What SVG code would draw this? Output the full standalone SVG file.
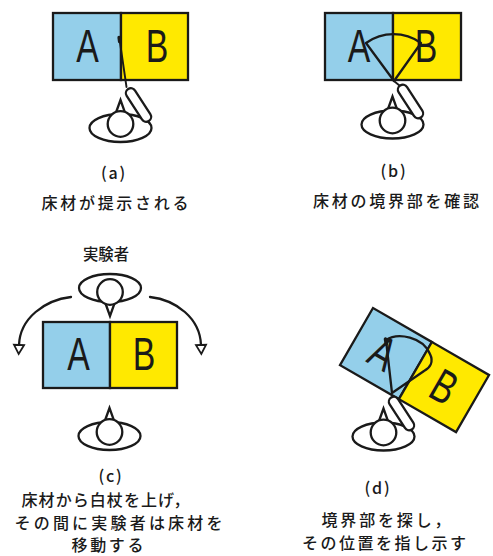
<svg xmlns="http://www.w3.org/2000/svg" xmlns:xlink="http://www.w3.org/1999/xlink" width="493" height="556" viewBox="0 0 493 556">
  <style>
    .ln { fill: none; stroke: #1a1a1a; stroke-width: 2.3; stroke-linejoin: round; stroke-linecap: round; }
    .wf { fill: #ffffff; stroke: #1a1a1a; stroke-width: 2.3; stroke-linejoin: miter; }
    .tile { stroke: #1a1a1a; stroke-width: 2.3; }
    .a { fill: #94cfea; }
    .b { fill: #ffe900; }
    .cane { fill: none; stroke: #1a1a1a; stroke-width: 1.9; stroke-linecap: round; }
    .tip { fill: none; stroke: #1a1a1a; stroke-width: 3.6; stroke-linecap: round; }
    .letter { font-family: "Liberation Sans", Arial, sans-serif; font-size: 47px; fill: #1a1a1a; text-anchor: middle; }
    .lbl { font-family: "Noto Sans CJK JP", "Noto Sans CJK SC", sans-serif; font-size: 16px; font-weight: 500; fill: #1a1a1a; }
    .mid { text-anchor: middle; }
  </style>
  <defs>
    <!-- seated person seen from above: shoulders, nose, head (origin = head centre) -->
    <g id="body">
      <ellipse class="wf" cx="0" cy="4" rx="31" ry="14"/>
    </g>
    <g id="head">
      <path class="wf" d="M-4.5,-11.5 L0,-24 L4.5,-11.5 Z"/>
      <circle class="wf" cx="0" cy="0" r="12.8"/>
    </g>
    <!-- arm holding the white cane -->
    <rect id="arm" class="wf" x="-5" y="-19" width="10" height="38" rx="5" ry="5" transform="translate(18,-19) rotate(-33)"/>
    <marker id="open-head" markerUnits="userSpaceOnUse" markerWidth="14" markerHeight="14" viewBox="-1 -7 12 14" refX="0" refY="0" orient="auto">
      <path d="M0,-5 L9,0 L0,5 Z" fill="#ffffff" stroke="#1a1a1a" stroke-width="1.8" stroke-linejoin="miter"/>
    </marker>
  </defs>

  <!-- (a) floor tiles presented -->
  <g id="tiles-a">
    <rect class="tile a" x="53" y="13" width="68" height="67"/>
    <rect class="tile b" x="121" y="13" width="67" height="67"/>
    <text class="letter" transform="translate(87.5,62) scale(0.72,1)">A</text>
    <text class="letter" transform="translate(157,62) scale(0.72,1)">B</text>
  </g>
  <g id="person-a">
    <line class="cane" x1="126.5" y1="87" x2="119.5" y2="39"/>
    <line class="tip" x1="119.2" y1="37.5" x2="119.7" y2="41.5"/>
    <g transform="translate(120.5,124)">
      <use xlink:href="#body"/>
      <use xlink:href="#arm"/>
      <use xlink:href="#head"/>
    </g>
  </g>
  <g id="caption-a">
    <text class="lbl mid" x="114" y="179" letter-spacing="1.8">(a)</text>
    <text class="lbl" x="41.5" y="208.5" textLength="147" lengthAdjust="spacing">床材が提示される</text>
  </g>

  <!-- (b) probing the boundary -->
  <g id="tiles-b">
    <rect class="tile a" x="325" y="13" width="68" height="67"/>
    <rect class="tile b" x="393" y="13" width="68" height="67"/>
    <text class="letter" transform="translate(359,62) scale(0.72,1)">A</text>
    <text class="letter" transform="translate(426,62) scale(0.72,1)">B</text>
  </g>
  <g id="person-b">
    <path class="ln" d="M394,81 L366,43 A47,47 0 0 1 421,43 Z"/>
    <line class="cane" x1="400" y1="86" x2="394" y2="81"/>
    <g transform="translate(392.5,120.5)">
      <use xlink:href="#body"/>
      <use xlink:href="#arm"/>
      <use xlink:href="#head"/>
    </g>
  </g>
  <g id="caption-b">
    <text class="lbl mid" x="394" y="177" letter-spacing="1.8">(b)</text>
    <text class="lbl" x="313" y="206.5" textLength="166" lengthAdjust="spacing">床材の境界部を確認</text>
  </g>

  <!-- (c) experimenter moves the tiles -->
  <g id="experimenter">
    <text class="lbl" x="83" y="260" textLength="46" lengthAdjust="spacingAndGlyphs">実験者</text>
    <g transform="translate(110,292) scale(1,-1)">
      <use xlink:href="#body"/>
      <use xlink:href="#head"/>
    </g>
  </g>
  <g id="tiles-c">
    <rect class="tile a" x="43" y="322" width="67" height="66"/>
    <rect class="tile b" x="110" y="322" width="67" height="66"/>
    <text class="letter" transform="translate(78.5,370) scale(0.72,1)">A</text>
    <text class="letter" transform="translate(144,370) scale(0.72,1)">B</text>
  </g>
  <g id="person-c">
    <g transform="translate(109.5,432)">
      <use xlink:href="#body"/>
      <use xlink:href="#head"/>
    </g>
  </g>
  <g id="connectors">
    <path class="ln" d="M71,297 C45,300 20,318 19,345" marker-end="url(#open-head)"/>
    <path class="ln" d="M150,297 C176,300 200,318 201,345" marker-end="url(#open-head)"/>
  </g>
  <g id="caption-c">
    <text class="lbl mid" x="111" y="482" letter-spacing="1.8">(c)</text>
    <text class="lbl" x="21.5" y="505.5" textLength="168" lengthAdjust="spacing">床材から白杖を上げ，</text>
    <text class="lbl" x="14.5" y="528.7" textLength="208" lengthAdjust="spacing">その間に実験者は床材を</text>
    <text class="lbl" x="71.5" y="551.4" textLength="72" lengthAdjust="spacing">移動する</text>
  </g>

  <!-- (d) locating the boundary on the turned tiles -->
  <g id="tiles-d" transform="translate(373,308) rotate(30)">
    <rect class="tile a" x="0" y="0" width="68" height="66"/>
    <rect class="tile b" x="68" y="0" width="66" height="66"/>
    <text class="letter" transform="translate(31,50) scale(0.72,1)">A</text>
    <text class="letter" transform="translate(101,49) scale(0.72,1)">B</text>
  </g>
  <g id="person-d">
    <path class="ln" d="M392,393 L386,340 C398,332 423,337 430,354 C434,362 430,368 424,371 L392,393"/>
    <line class="tip" x1="385.5" y1="339" x2="386.3" y2="344"/>
    <g transform="translate(383.5,432.5)">
      <use xlink:href="#body"/>
      <use xlink:href="#arm"/>
      <use xlink:href="#head"/>
    </g>
  </g>
  <g id="caption-d">
    <text class="lbl mid" x="378" y="494" letter-spacing="1.8">(d)</text>
    <text class="lbl" x="321.5" y="525.5" textLength="129" lengthAdjust="spacing">境界部を探し，</text>
    <text class="lbl" x="302" y="548.8" textLength="164" lengthAdjust="spacing">その位置を指し示す</text>
  </g>
</svg>
